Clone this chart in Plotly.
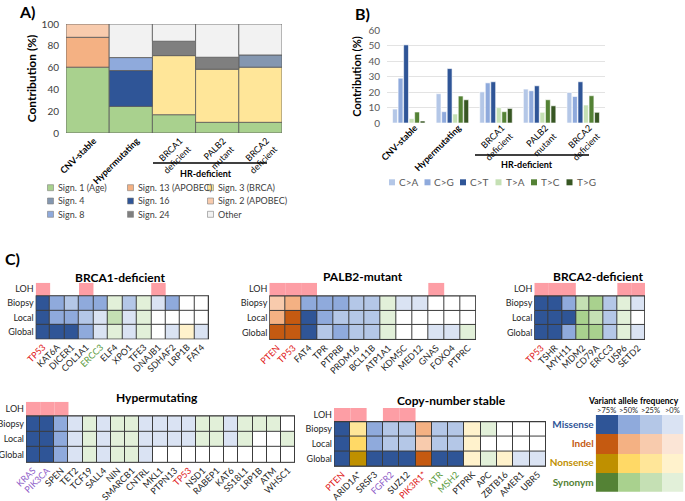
import plotly.graph_objects as go

W, H = 685, 501
FONT = "Lato"


def fx(px):
    return px / W


def fy(py):
    return 1 - py / H


# ---------------- Panel A: signature contributions ----------------
groups_a = ["<b>CNV-stable</b>", "<b>Hypermutating</b>", "BRCA1<br>deficient",
            "PALB2<br>mutant", "BRCA2<br>deficient"]
sig1_age = [60.4, 24.4, 16.8, 9.8, 9.8]
sig13_apobec = [27.4, 0, 0, 0, 0]
sig2_apobec = [12.2, 0, 0, 0, 0]
sig3_brca = [0, 0, 54.2, 48.7, 50.6]
sig16 = [0, 32.9, 0, 0, 0]
sig8 = [0, 11.9, 0, 0, 0]
sig4 = [0, 0, 0, 0, 11.2]
sig24 = [0, 0, 13.2, 11.0, 0]
sig_other = [0, 30.8, 15.8, 30.5, 28.4]

# stacking order (bottom -> top)
stack_series = [sig1_age, sig13_apobec, sig2_apobec, sig3_brca, sig16, sig8, sig4, sig24, sig_other]
stack_colors = ["#a9d18e", "#f4b183", "#f8cbad", "#ffe699", "#2f5597", "#8faadc", "#8497b0", "#7f7f7f", "#f2f2f2"]

# legend (row-wise as in the figure)
legend_a_labels = ["Sign. 1 (Age)", "Sign. 13 (APOBEC)", "Sign. 3 (BRCA)",
                   "Sign. 4", "Sign. 16", "Sign. 2 (APOBEC)",
                   "Sign. 8", "Sign. 24", "Other"]
legend_a_colors = ["#a9d18e", "#f4b183", "#ffe699",
                   "#8497b0", "#2f5597", "#f8cbad",
                   "#8faadc", "#7f7f7f", "#f2f2f2"]

# ---------------- Panel B: substitution types ----------------
groups_b = ["<b>CNV-stable</b>", "<b>Hypermutating</b>", "BRCA1<br>deficient",
            "PALB2<br>mutant", "BRCA2<br>deficient"]
sub_types = ["C>A", "C>G", "C>T", "T>A", "T>C", "T>G"]
sub_colors = ["#b4c7e7", "#8faadc", "#2f5597", "#c5e0b4", "#548235", "#375623"]
c_to_a = [9.0, 18.9, 20.1, 21.9, 19.7]
c_to_g = [28.9, 7.3, 25.9, 20.8, 17.1]
c_to_t = [50.4, 35.1, 26.6, 24.0, 26.6]
t_to_a = [2.8, 5.8, 9.9, 6.9, 11.6]
t_to_c = [7.1, 17.4, 7.3, 15.0, 17.6]
t_to_g = [1.3, 15.0, 9.4, 11.1, 6.9]
sub_series = [c_to_a, c_to_g, c_to_t, t_to_a, t_to_c, t_to_g]

# ---------------- Panel C: variant heatmaps ----------------
RED, GREEN, PURPLE = "#e02020", "#5b9a3c", "#8e5cc8"

brca1_genes = ["TP53", "KAT6A", "DICER1", "COL1A1", "ERCC3", "ELF4", "XPO1", "TFE3",
               "DNAJB1", "SDHAF2", "LRP1B", "FAT4"]
brca1_label_colors = [RED, "", "", "", GREEN, "", "", "", "", "", "", ""]
brca1_loh = ["TP53", "COL1A1", "DNAJB1"]
brca1_biopsy = ["M4", "M3", "M2", "M3", "M3", "S1", "M2", "S1", "M1", "M3", "", ""]
brca1_local = ["M4", "M3", "M3", "M2", "M1", "S2", "M1", "S1", "", "", "", ""]
brca1_global = ["M4", "M4", "M4", "M3", "M1", "S1", "M1", "S1", "", "M1", "N1", "M1"]

palb2_genes = ["PTEN", "TP53", "FAT4", "TPR", "PTPRB", "PRDM16", "BCL11B", "ATP1A1",
               "KDM5C", "MED12", "GNAS", "FOXO4", "PTPRC"]
palb2_label_colors = [RED, RED, "", "", "", "", "", "", "", "", "", "", ""]
palb2_loh = ["PTEN", "TP53", "FAT4", "GNAS"]
palb2_biopsy = ["I2", "I3", "M3", "M3", "M3", "M2", "M2", "S1", "M1", "M1", "", "", ""]
palb2_local = ["I3", "I4", "M4", "M3", "M2", "M2", "M2", "S1", "", "", "", "", ""]
palb2_global = ["I4", "I4", "M4", "M2", "M3", "M2", "M2", "S1", "", "", "M1", "M1", "S1"]

brca2_genes = ["TP53", "TSHR", "MYH11", "MDM2", "CD79A", "ERCC3", "USP6", "SETD2"]
brca2_label_colors = [RED, "", "", "", "", "", "", ""]
brca2_loh = ["TP53", "TSHR", "MYH11", "USP6", "SETD2"]
brca2_biopsy = ["M4", "M4", "M3", "S2", "S3", "M2", "S1", "M1"]
brca2_local = ["M4", "M4", "M4", "S3", "S2", "M2", "S1", ""]
brca2_global = ["M4", "M4", "M3", "S3", "S3", "M2", "S1", "M1"]

hyper_genes = ["KRAS", "PIK3CA", "SPEN", "TET2", "TCF19", "SALL4", "NIN", "SMARCB1", "CNTRL",
               "MKL1", "PTPN13", "TP53", "NSD1", "RABEP1", "KAT6", "SS18L1", "LRP1B", "ATM", "WHSC1"]
hyper_label_colors = [PURPLE, PURPLE, "", "", "", "", "", "", "", "", "", RED, "", "", "", "", "", "", ""]
hyper_loh = ["KRAS", "PIK3CA", "SPEN"]
hyper_biopsy = ["M4", "M4", "M3", "M1", "S1", "M1", "S1", "S1", "M1", "M1", "M1", "M1", "S1", "S1",
                "M1", "S1", "S1", "S1", ""]
hyper_local = ["M4", "M4", "M3", "M1", "S1", "M1", "S1", "S1", "M1", "M1", "M1", "M1", "S1", "S1",
               "M1", "S1", "", "", "S1"]
hyper_global = ["M4", "M4", "M3", "M1", "S1", "M1", "S1", "S1", "M1", "", "", "", "", "", "",
                "", "", "", ""]

cns_genes = ["PTEN", "ARID1A*", "SRSF3", "FGFR2", "SUZ12", "PIK3R1*", "ATR", "MSH2", "PTPRK",
             "APC", "ZBTB16", "AMER1", "UBR5"]
cns_label_colors = [RED, "", "", PURPLE, "", RED, GREEN, GREEN, "", "", "", "", ""]
cns_loh = ["PTEN", "ARID1A*", "FGFR2", "SUZ12"]
cns_biopsy = ["M4", "N2", "M3", "M2", "M2", "I3", "M2", "M2", "N1", "S1", "", "", ""]
cns_local = ["M4", "N3", "M3", "M2", "M2", "I2", "M2", "M2", "N1", "", "", "", ""]
cns_global = ["M4", "N4", "M4", "M4", "M4", "I4", "M4", "M4", "N1", "S1", "N1", "M1", "M1"]

# variant-class colour key
vaf_bins = [">75%", ">50%", ">25%", ">0%"]
var_classes = ["Missense", "Indel", "Nonsense", "Synonym"]
var_class_colors = ["#2f5597", "#c55a11", "#bf9000", "#548235"]
key_missense = ["M4", "M3", "M2", "M1"]
key_indel = ["I4", "I3", "I2", "I1"]
key_nonsense = ["N4", "N3", "N2", "N1"]
key_synonym = ["S4", "S3", "S2", "S1"]

code_list = ["", "M1", "M2", "M3", "M4", "I1", "I2", "I3", "I4",
             "N1", "N2", "N3", "N4", "S1", "S2", "S3", "S4"]
code_colors = ["#ffffff", "#dae3f3", "#b4c7e7", "#8faadc", "#2f5597",
               "#fbe5d6", "#f8cbad", "#f4b183", "#c55a11",
               "#fff2cc", "#ffe699", "#ffd966", "#bf9000",
               "#e2f0d9", "#c5e0b4", "#a9d18e", "#548235"]
LOH_COLOR = "#fd9ea5"

nC = len(code_list)
colorscale = []
for i, c in enumerate(code_colors):
    colorscale.append([i / nC, c])
    colorscale.append([(i + 1) / nC, c])
code_idx = {c: i for i, c in enumerate(code_list)}

fig = go.Figure()
layout = {}
shapes = []
annotations = []


def note(text, px, py, size, color="#000000", xanchor="center"):
    annotations.append(dict(text=text, x=fx(px), y=fy(py), xref="paper", yref="paper",
                            xanchor=xanchor, yanchor="middle", showarrow=False,
                            font=dict(size=size, color=color)))


# ---------- Panel A traces ----------
base = [0.0] * len(groups_a)
for vals, col in zip(stack_series, stack_colors):
    xs = [i for i, v in enumerate(vals) if v > 0]
    fig.add_trace(go.Bar(
        x=xs, y=[vals[i] for i in xs], base=[base[i] for i in xs],
        width=1, offset=-0.5,
        marker=dict(color=col, line=dict(color="#5a5a5a", width=0.8)),
        xaxis="x", yaxis="y", showlegend=False, hoverinfo="skip"))
    base = [b + v for b, v in zip(base, vals)]

layout["xaxis"] = dict(domain=[fx(66), fx(282)], range=[-0.5, 4.5], anchor="y",
                       tickmode="array", tickvals=list(range(5)), ticktext=groups_a,
                       tickangle=-45, tickfont=dict(size=9, color="#000000"),
                       showgrid=False, zeroline=False, showline=False, ticks="",
                       ticklabelshift=6, automargin=False)
layout["yaxis"] = dict(domain=[fy(133), fy(24)], range=[0, 100], anchor="x",
                       tickmode="array", tickvals=[0, 20, 40, 60, 80, 100],
                       tickfont=dict(size=10, color="#404040"),
                       showgrid=False, zeroline=False, showline=False, ticks="",
                       ticklabelstandoff=6, automargin=False,
                       title=dict(text="<b>Contribution (%)</b>",
                                  font=dict(size=12, color="#000000"), standoff=2))

# ---------- Panel B traces ----------
for name, vals, col in zip(sub_types, sub_series, sub_colors):
    fig.add_trace(go.Bar(
        x=list(range(len(groups_b))), y=vals, name=name,
        marker=dict(color=col, line=dict(color="#ffffff", width=0.6)),
        xaxis="x2", yaxis="y2", showlegend=False, hoverinfo="skip"))

layout["xaxis2"] = dict(domain=[fx(387), fx(605)], range=[-0.5, 4.5], anchor="y2",
                        tickmode="array", tickvals=list(range(5)), ticktext=groups_b,
                        tickangle=-45, tickfont=dict(size=9, color="#000000"),
                        showgrid=False, zeroline=False, showline=False, ticks="",
                        ticklabelshift=6, ticklabelstandoff=-3, automargin=False)
layout["yaxis2"] = dict(domain=[fy(123), fy(30)], range=[0, 60], anchor="x2",
                        tickmode="linear", tick0=0, dtick=10,
                        tickfont=dict(size=10, color="#595959"),
                        showgrid=True, gridcolor="#e3e3e3", gridwidth=1,
                        zeroline=False, showline=False, ticks="",
                        ticklabelstandoff=6, automargin=False,
                        title=dict(text="<b>Contribution (%)</b>",
                                   font=dict(size=11, color="#000000"), standoff=4))


# ---------- Panel C heatmaps ----------
def add_heat(idx, genes, lcols, loh, biopsy, local, glob, xpx, ypx, title, tpos):
    xa, ya = "x%d" % idx, "y%d" % idx
    n = len(genes)
    z = [[code_idx[c] for c in glob], [code_idx[c] for c in local], [code_idx[c] for c in biopsy]]
    fig.add_trace(go.Heatmap(z=z, x=list(range(n)), y=[0, 1, 2], xaxis=xa, yaxis=ya,
                             colorscale=colorscale, zmin=-0.5, zmax=nC - 0.5,
                             showscale=False, xgap=1, ygap=1, hoverinfo="skip"))
    lx = [i for i, g in enumerate(genes) if g in loh]
    fig.add_trace(go.Bar(x=lx, y=[0.9] * len(lx), base=2.5, width=1, offset=-0.5,
                         marker=dict(color=LOH_COLOR, line=dict(width=0)),
                         xaxis=xa, yaxis=ya, showlegend=False, hoverinfo="skip"))
    ticktext = [('<span style="color:%s">%s</span>' % (c, g)) if c else g
                for g, c in zip(genes, lcols)]
    layout["xaxis%d" % idx] = dict(domain=[fx(xpx[0]), fx(xpx[1])], range=[-0.5, n - 0.5],
                                   anchor=ya, tickmode="array", tickvals=list(range(n)),
                                   ticktext=ticktext, tickangle=-45,
                                   tickfont=dict(size=9, color="#262626"),
                                   showgrid=False, zeroline=False, showline=False, ticks="",
                                   automargin=False)
    layout["yaxis%d" % idx] = dict(domain=[fy(ypx[1]), fy(ypx[0])], range=[-0.5, 3.4],
                                   anchor=xa, tickmode="array", tickvals=[0, 1, 2, 2.95],
                                   ticktext=["Global", "Local", "Biopsy", "LOH"],
                                   tickfont=dict(size=9, color="#262626"),
                                   showgrid=False, zeroline=False, showline=False, ticks="",
                                   ticklabelstandoff=1, automargin=False)
    shapes.append(dict(type="rect", xref=xa, yref=ya, x0=-0.5, x1=n - 0.5, y0=-0.5, y1=2.5,
                       fillcolor="#3c3c3c", line=dict(width=0), layer="below"))
    shapes.append(dict(type="rect", xref=xa, yref=ya, x0=-0.5, x1=n - 0.5, y0=-0.5, y1=2.5,
                       line=dict(color="#3c3c3c", width=1.2), layer="above"))
    note("<b>%s</b>" % title, tpos[0], tpos[1], 12)


add_heat(3, brca1_genes, brca1_label_colors, brca1_loh, brca1_biopsy, brca1_local, brca1_global,
         (35.7, 209), (282.7, 339.3), "BRCA1-deficient", (120, 277))
add_heat(4, palb2_genes, palb2_label_colors, palb2_loh, palb2_biopsy, palb2_local, palb2_global,
         (269.3, 476), (282.7, 340), "PALB2-mutant", (363, 276))
add_heat(5, brca2_genes, brca2_label_colors, brca2_loh, brca2_biopsy, brca2_local, brca2_global,
         (534.3, 645), (282.7, 340), "BRCA2-deficient", (598, 276))
add_heat(6, hyper_genes, hyper_label_colors, hyper_loh, hyper_biopsy, hyper_local, hyper_global,
         (26, 295), (401.7, 462.7), "Hypermutating", (157, 397))
add_heat(7, cns_genes, cns_label_colors, cns_loh, cns_biopsy, cns_local, cns_global,
         (334, 546), (408, 466.7), "Copy-number stable", (451, 400))

# ---------- colour key heatmap ----------
key_rows = [key_synonym, key_nonsense, key_indel, key_missense]
fig.add_trace(go.Heatmap(z=[[code_idx[c] for c in r] for r in key_rows],
                         x=list(range(4)), y=list(range(4)), xaxis="x8", yaxis="y8",
                         colorscale=colorscale, zmin=-0.5, zmax=nC - 0.5,
                         showscale=False, hoverinfo="skip"))
layout["xaxis8"] = dict(domain=[fx(595.7), fx(683.3)], range=[-0.5, 3.5], anchor="y8",
                        side="top", tickmode="array", tickvals=list(range(4)), ticktext=vaf_bins,
                        tickangle=0, tickfont=dict(size=7.5, color="#262626"),
                        showgrid=False, zeroline=False,
                        showline=False, ticks="", ticklabelstandoff=0, automargin=False)
layout["yaxis8"] = dict(domain=[fy(491.7), fy(415)], range=[-0.5, 3.5], anchor="x8",
                        tickmode="array", tickvals=list(range(4)),
                        ticktext=['<span style="color:%s"><b>%s</b></span>' % (c, t)
                                  for t, c in zip(var_classes[::-1], var_class_colors[::-1])],
                        tickfont=dict(size=10), showgrid=False, zeroline=False,
                        showline=False, ticks="", ticklabelstandoff=1, automargin=False)
note("<b>Variant allele frequency</b>", 633, 401, 8.5)

# ---------- custom legends ----------
leg_cols_x = [47.5, 127.5, 207.5]
leg_rows_y = [187.7, 201, 214.3]
for k, (lab, col) in enumerate(zip(legend_a_labels, legend_a_colors)):
    r, c = divmod(k, 3)
    x0, yc = leg_cols_x[c], leg_rows_y[r]
    shapes.append(dict(type="rect", xref="paper", yref="paper",
                       x0=fx(x0), x1=fx(x0 + 6), y0=fy(yc + 3), y1=fy(yc - 3),
                       fillcolor=col, line=dict(color="#7f7f7f", width=0.6)))
    note(lab, x0 + 8, yc, 9, "#404040", "left")

leg_b_x = [389, 424.5, 460, 495.5, 531, 566.5]
for lab, col, x0 in zip(sub_types, sub_colors, leg_b_x):
    yc = 182.3
    shapes.append(dict(type="rect", xref="paper", yref="paper",
                       x0=fx(x0), x1=fx(x0 + 6), y0=fy(yc + 3), y1=fy(yc - 3),
                       fillcolor=col, line=dict(width=0)))
    note(lab, x0 + 8, yc, 10, "#595959", "left")

# HR-deficient brackets
for (x0, x1, yl, xt, yt) in [(153, 267, 163, 206, 173), (475, 589, 155, 527, 164.3)]:
    shapes.append(dict(type="line", xref="paper", yref="paper", x0=fx(x0), x1=fx(x1),
                       y0=fy(yl), y1=fy(yl), line=dict(color="#000000", width=1.3)))
    note("<b>HR-deficient</b>", xt, yt, 9)

# panel labels
for lab, (x, y) in [("A)", (27, 11)), ("B)", (362, 13)), ("C)", (12, 258))]:
    note("<b>%s</b>" % lab, x, y, 16)

fig.update_layout(
    template="none",
    width=W, height=H, margin=dict(l=0, r=0, t=0, b=0, pad=0),
    paper_bgcolor="#ffffff", plot_bgcolor="#ffffff",
    font=dict(family=FONT, color="#262626"),
    barmode="group", bargap=0.24, bargroupgap=0.12,
    showlegend=False, shapes=shapes, annotations=annotations,
    **layout)

fig.write_html("out.html", config={"displayModeBar": False},
               post_script="document.body.style.margin='0px';document.body.style.overflow='hidden';")
